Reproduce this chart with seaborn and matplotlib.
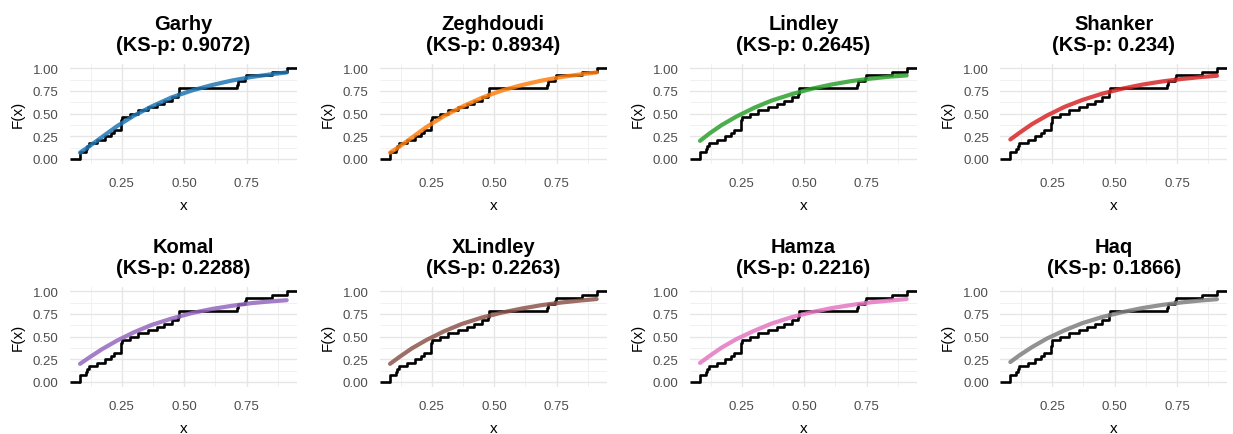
import numpy as np
import pandas as pd
import matplotlib
matplotlib.use("Agg")
import matplotlib.pyplot as plt
from matplotlib.ticker import MultipleLocator
import seaborn as sns

# Observed sample (n = 28)
obs = [0.083, 0.083,
       0.107, 0.112, 0.117,
       0.152, 0.183, 0.205, 0.217,
       0.245, 0.247, 0.248, 0.250,
       0.283, 0.317, 0.357, 0.390, 0.420, 0.450,
       0.476, 0.478, 0.480,
       0.712, 0.715, 0.743, 0.748,
       0.850, 0.910]

# Fitted CDF values at selected x positions
cdf_x = [0.083, 0.12, 0.17, 0.23, 0.30, 0.37, 0.45, 0.53, 0.61, 0.69, 0.77, 0.85, 0.91]
cdf_garhy = [0.07, 0.14, 0.24, 0.36, 0.48, 0.58, 0.68, 0.755, 0.815, 0.865, 0.905, 0.935, 0.955]
cdf_zeghdoudi = [0.07, 0.135, 0.235, 0.355, 0.475, 0.575, 0.675, 0.755, 0.815, 0.865, 0.905, 0.935, 0.955]
cdf_lindley = [0.20, 0.28, 0.375, 0.47, 0.565, 0.645, 0.715, 0.775, 0.822, 0.86, 0.888, 0.91, 0.922]
cdf_shanker = [0.215, 0.29, 0.385, 0.48, 0.575, 0.65, 0.72, 0.775, 0.82, 0.855, 0.883, 0.905, 0.918]
cdf_komal = [0.20, 0.27, 0.36, 0.455, 0.55, 0.63, 0.70, 0.76, 0.805, 0.84, 0.87, 0.89, 0.902]
cdf_xlindley = [0.20, 0.275, 0.37, 0.465, 0.56, 0.64, 0.71, 0.765, 0.81, 0.848, 0.877, 0.90, 0.915]
cdf_hamza = [0.21, 0.285, 0.38, 0.475, 0.565, 0.645, 0.715, 0.77, 0.815, 0.85, 0.88, 0.90, 0.915]
cdf_haq = [0.22, 0.295, 0.385, 0.48, 0.57, 0.648, 0.716, 0.77, 0.815, 0.85, 0.878, 0.90, 0.913]

models = ["Garhy", "Zeghdoudi", "Lindley", "Shanker", "Komal", "XLindley", "Hamza", "Haq"]
ks_p = ["0.9072", "0.8934", "0.2645", "0.234", "0.2288", "0.2263", "0.2216", "0.1866"]
fits = [cdf_garhy, cdf_zeghdoudi, cdf_lindley, cdf_shanker,
        cdf_komal, cdf_xlindley, cdf_hamza, cdf_haq]
colors = ["#1f77b4", "#ff7f0e", "#2ca02c", "#d62728",
          "#9467bd", "#8c564b", "#e377c2", "#7f7f7f"]

sns.set_theme(style="white")
plt.rcParams["font.family"] = ["Liberation Sans", "DejaVu Sans"]

W, H = 1233, 435
fig = plt.figure(figsize=(W / 100, H / 100), dpi=100)

obs_arr = np.asarray(obs)
lo, hi = obs_arr.min(), obs_arr.max()
span = hi - lo
xlim = (lo - 0.05 * span, hi + 0.05 * span)

ax_w = 227.3 / W
ax_h = 99.7 / H
lefts = [69.7, 379.7, 689.7, 1000.0]
tops = [64.8, 287.8]

for i, (name, p, fit, col) in enumerate(zip(models, ks_p, fits, colors)):
    r, c = divmod(i, 4)
    ax = fig.add_axes([lefts[c] / W, 1 - (tops[r] + 99.7) / H, ax_w, ax_h])

    # empirical CDF, padded to the panel edges
    sns.ecdfplot(x=obs_arr, ax=ax, color="black", linewidth=1.9, zorder=2)
    ax.plot([xlim[0], lo], [0, 0], color="black", linewidth=1.9, zorder=2,
            solid_capstyle="butt")
    ax.plot([hi, xlim[1]], [1, 1], color="black", linewidth=1.9, zorder=2,
            solid_capstyle="butt")

    # fitted CDF
    df = pd.DataFrame({"x": cdf_x, "F": fit})
    sns.lineplot(data=df, x="x", y="F", ax=ax, color=col, linewidth=3.0,
                 alpha=0.85, zorder=3)

    ax.set_xlim(*xlim)
    ax.set_ylim(-0.05, 1.05)
    ax.xaxis.set_minor_locator(MultipleLocator(0.125))
    ax.yaxis.set_minor_locator(MultipleLocator(0.125))
    ax.set_xticks([0.25, 0.5, 0.75])
    ax.set_xticklabels(["0.25", "0.50", "0.75"])
    ax.set_yticks([0, 0.25, 0.5, 0.75, 1.0])
    ax.set_yticklabels(["0.00", "0.25", "0.50", "0.75", "1.00"])

    ax.grid(True, which="major", color="#E6E6E6", linewidth=1.0, zorder=0)
    ax.grid(True, which="minor", color="#F0F0F0", linewidth=0.7, zorder=0)
    ax.set_axisbelow(True)
    for s in ax.spines.values():
        s.set_visible(False)
    ax.tick_params(axis="both", which="both", length=0, labelsize=9.5,
                   labelcolor="#4D4D4D")
    ax.tick_params(axis="x", pad=10)
    ax.tick_params(axis="y", pad=8)

    ax.set_xlabel("x", fontsize=11, labelpad=6, color="black")
    ax.set_ylabel("F(x)", fontsize=11, labelpad=6, color="black")
    ax.set_title(f"{name}\n(KS-p: {p})", fontsize=14.5, fontweight="bold",
                 pad=10, linespacing=1.15, color="black")

fig.savefig("out.png", dpi=100)
